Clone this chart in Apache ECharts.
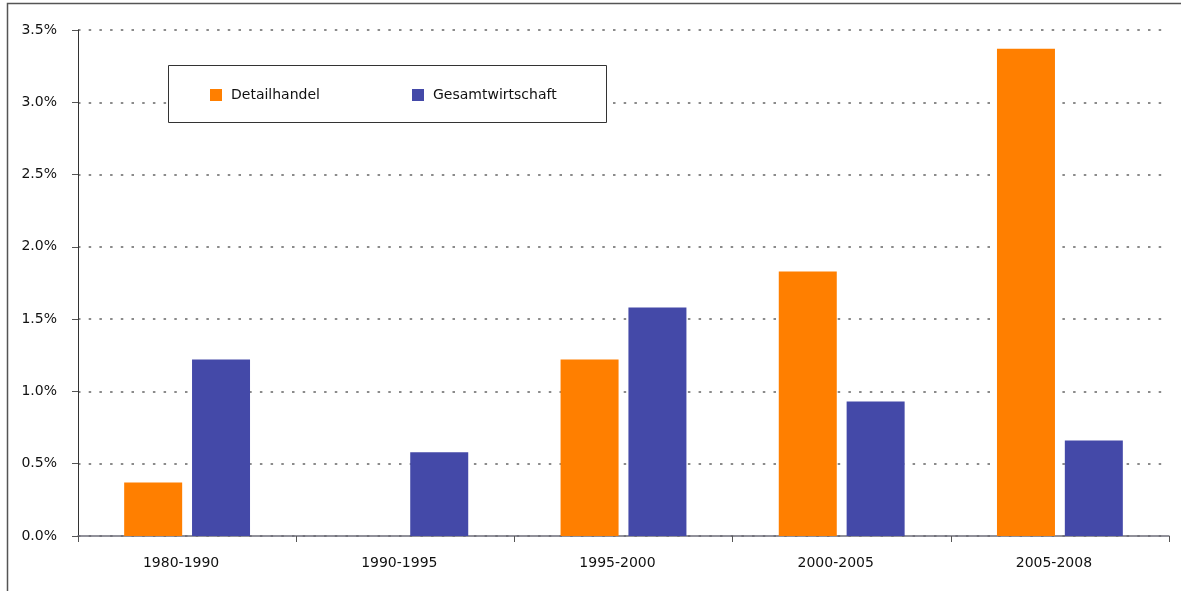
<!DOCTYPE html>
<html>
<head>
<meta charset="utf-8">
<script src="https://cdn.jsdelivr.net/npm/echarts@6/dist/echarts.min.js"></script>
<style>html,body{margin:0;padding:0;background:#fff;}#c{width:1181px;height:591px;}</style>
</head>
<body>
<div id="c"></div>
<script>
const categories = ['1980-1990', '1990-1995', '1995-2000', '2000-2005', '2005-2008'];
const detailhandel = [0.37, null, 1.22, 1.83, 3.37];
const gesamtwirtschaft = [1.22, 0.58, 1.58, 0.93, 0.66];
const seriesNames = ['Detailhandel', 'Gesamtwirtschaft'];

const FONT = 'DejaVu Sans';
const chart = echarts.init(document.getElementById('c'));
chart.setOption({
  animation: false,
  backgroundColor: '#fff',
  textStyle: { fontFamily: FONT },
  graphic: [
    { type: 'rect', shape: { x: 7.5, y: 3.5, width: 1200, height: 620 }, style: { fill: 'none', stroke: '#555', lineWidth: 1.5 }, z: 0 },
    { type: 'rect', shape: { x: 168.5, y: 65.5, width: 438, height: 57 }, style: { fill: '#fff', stroke: '#333', lineWidth: 1 }, z: 10 }
  ],
  legend: [
    { data: [seriesNames[0]], left: 205, top: 83, itemWidth: 12, itemHeight: 12, itemGap: 10, z: 20,
      textStyle: { fontFamily: FONT, fontSize: 14, color: '#111', padding: [0, 0, 0, 4] }, icon: 'rect' },
    { data: [seriesNames[1]], left: 407, top: 83, itemWidth: 12, itemHeight: 12, itemGap: 10, z: 20,
      textStyle: { fontFamily: FONT, fontSize: 14, color: '#111', padding: [0, 0, 0, 4] }, icon: 'rect' }
  ],
  grid: { left: 78, right: 12, top: 30, bottom: 55, containLabel: false },
  xAxis: {
    type: 'category', data: categories,
    axisLine: { lineStyle: { color: '#6e6e7a', width: 1.5 } },
    axisTick: { show: true, length: 6, alignWithLabel: false, lineStyle: { color: '#555' } },
    axisLabel: { fontFamily: FONT, fontSize: 14, color: '#111', margin: 20, padding: [0, 12, 0, 0] }
  },
  yAxis: {
    type: 'value', min: 0, max: 3.5, interval: 0.5,
    axisLine: { show: true, lineStyle: { color: '#333', width: 1 } },
    axisTick: { show: true, length: 6, lineStyle: { color: '#555' } },
    axisLabel: { fontFamily: FONT, fontSize: 14, color: '#111', margin: 21, formatter: v => v.toFixed(1) + '%' },
    splitLine: { show: true, lineStyle: { color: '#666', type: [2.5, 8.2], width: 1.5 } }
  },
  series: [
    { name: seriesNames[0], type: 'bar', data: detailhandel, barWidth: 58, barGap: '17%', itemStyle: { color: '#FF7F00' } },
    { name: seriesNames[1], type: 'bar', data: gesamtwirtschaft, barWidth: 58, barGap: '17%', itemStyle: { color: '#4449A8' } }
  ]
});
</script>
</body>
</html>
